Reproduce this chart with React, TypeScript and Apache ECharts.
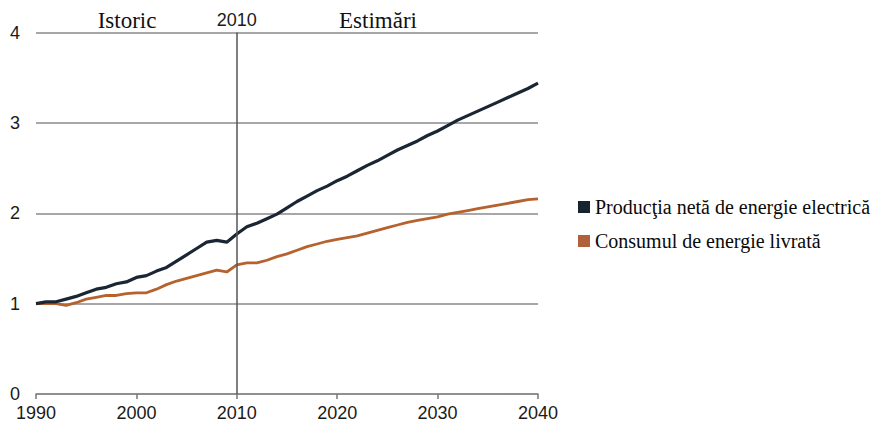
import React, { useEffect, useRef } from "react";
import * as echarts from "echarts";

const years: number[] = [];
for (let y = 1990; y <= 2040; y++) years.push(y);

const productionValues = [
  1.0, 1.02, 1.02, 1.05, 1.08, 1.12, 1.16, 1.18, 1.22, 1.24,
  1.29, 1.31, 1.36, 1.4, 1.47, 1.54, 1.61, 1.68, 1.7, 1.68,
  1.77, 1.85, 1.89, 1.94, 1.99, 2.06, 2.13, 2.19, 2.25, 2.3,
  2.36, 2.41, 2.47, 2.53, 2.58, 2.64, 2.7, 2.75, 2.8, 2.86,
  2.91, 2.97, 3.03, 3.08, 3.13, 3.18, 3.23, 3.28, 3.33, 3.38, 3.44,
];

const consumptionValues = [
  1.0, 1.0, 1.0, 0.98, 1.01, 1.05, 1.07, 1.09, 1.09, 1.11,
  1.12, 1.12, 1.16, 1.21, 1.25, 1.28, 1.31, 1.34, 1.37, 1.35,
  1.43, 1.45, 1.45, 1.48, 1.52, 1.55, 1.59, 1.63, 1.66, 1.69,
  1.71, 1.73, 1.75, 1.78, 1.81, 1.84, 1.87, 1.9, 1.92, 1.94,
  1.96, 1.99, 2.01, 2.03, 2.05, 2.07, 2.09, 2.11, 2.13, 2.15, 2.16,
];

const seriesNames = ["Producţia netă de energie electrică", "Consumul de energie livrată"];
const seriesColors = ["#1a2634", "#b5622f"];
const legendColors = ["#17232f", "#b0603a"];
const splitYear = 2010;
const leftLabel = "Istoric";
const rightLabel = "Estimări";

const SANS = "'Liberation Sans', Arial, sans-serif";
const SERIF = "'Liberation Serif', 'Times New Roman', serif";

export default function App() {
  const ref = useRef<HTMLDivElement>(null);

  useEffect(() => {
    if (!ref.current) return;
    const chart = echarts.init(ref.current, undefined, { renderer: "svg" });
    const toPairs = (vals: number[]) => years.map((y, i) => [y, vals[i]]);
    chart.setOption({
      animation: false,
      backgroundColor: "#ffffff",
      grid: { left: 36, right: 339, top: 32.5, bottom: 34, containLabel: false },
      xAxis: {
        type: "value",
        min: 1990,
        max: 2040,
        interval: 10,
        axisLine: { show: true, lineStyle: { color: "#888888", width: 1.5 } },
        axisTick: { show: true, length: 5, lineStyle: { color: "#777777", width: 1.5 } },
        axisLabel: {
          fontFamily: SANS,
          fontSize: 18,
          color: "#1a1a1a",
          margin: 10,
          formatter: (v: number) => String(v),
        },
        splitLine: { show: false },
      },
      yAxis: {
        type: "value",
        min: 0,
        max: 4,
        interval: 1,
        axisLine: { show: false },
        axisTick: { show: false },
        axisLabel: { fontFamily: SANS, fontSize: 18, color: "#1a1a1a", margin: 16 },
        splitLine: { show: true, lineStyle: { color: "#8a8a8a", width: 1.5 } },
      },
      legend: {
        orient: "vertical",
        left: 573,
        top: 192,
        itemWidth: 12,
        itemHeight: 12,
        itemGap: 14,
        icon: "rect",
        textStyle: { fontFamily: SERIF, fontSize: 20, color: "#0a0a0a" },
        data: seriesNames.map((n, i) => ({ name: n, itemStyle: { color: legendColors[i] } })),
      },
      series: [
        {
          name: seriesNames[0],
          type: "line",
          data: toPairs(productionValues),
          showSymbol: false,
          symbol: "none",
          lineStyle: { color: seriesColors[0], width: 3.2 },
          itemStyle: { color: seriesColors[0] },
          z: 3,
          markLine: {
            silent: true,
            symbol: "none",
            lineStyle: { color: "#555555", width: 1.5, type: "solid" },
            label: {
              show: true,
              position: "end",
              formatter: String(splitYear),
              fontFamily: SANS,
              fontSize: 18,
              color: "#1a1a1a",
              distance: 4,
            },
            data: [{ xAxis: splitYear }],
          },
        },
        {
          name: seriesNames[1],
          type: "line",
          data: toPairs(consumptionValues),
          showSymbol: false,
          symbol: "none",
          lineStyle: { color: seriesColors[1], width: 2.8 },
          itemStyle: { color: seriesColors[1] },
          z: 2,
        },
      ],
      graphic: [
        {
          type: "text",
          x: 127,
          y: 20,
          style: {
            text: leftLabel,
            fontFamily: SERIF,
            fontSize: 23,
            fill: "#111111",
            align: "center",
            verticalAlign: "middle",
          },
        },
        {
          type: "text",
          x: 378,
          y: 20,
          style: {
            text: rightLabel,
            fontFamily: SERIF,
            fontSize: 23,
            fill: "#111111",
            align: "center",
            verticalAlign: "middle",
          },
        },
      ],
    });
    return () => chart.dispose();
  }, []);

  return <div ref={ref} style={{ width: 877, height: 428, position: "absolute", left: 0, top: 0 }} />;
}
